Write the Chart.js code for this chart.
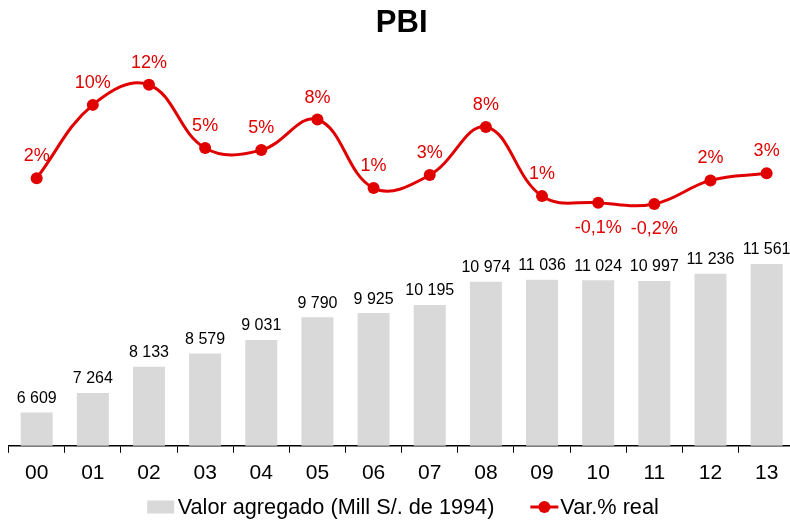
<!DOCTYPE html>
<html>
<head>
<meta charset="utf-8">
<script src="https://cdn.jsdelivr.net/npm/chart.js@4.4.1/dist/chart.umd.min.js"></script>
<style>
html,body{margin:0;padding:0;background:#fff;overflow:hidden;}
#wrap{width:810px;height:522px;}
</style>
</head>
<body>
<div id="wrap"><canvas id="c" width="810" height="522"></canvas></div>
<script>
// ---- data ----
const categories = ['00','01','02','03','04','05','06','07','08','09','10','11','12','13'];
const valorAgregado = [6609, 7264, 8133, 8579, 9031, 9790, 9925, 10195, 10974, 11036, 11024, 10997, 11236, 11561];
const varReal = [2.4, 9.9, 11.96, 5.48, 5.27, 8.4, 1.38, 2.72, 7.64, 0.56, -0.11, -0.24, 2.17, 2.89];
const seriesNames = ['Valor agregado (Mill S/. de 1994)', 'Var.% real'];

const RED = '#e00000';
const GREY = '#d9d9d9';
const FONT = "'Liberation Sans', Arial, sans-serif";

function fmtThousands(v){ return String(v).replace(/\B(?=(\d{3})+(?!\d))/g, ' '); }
function fmtPct(v){
  const r = Math.round(v);
  if (r === 0) return v.toFixed(1).replace('.', ',') + '%';
  return r + '%';
}

const labelsPlugin = {
  id: 'valueLabels',
  afterDatasetsDraw(chart){
    const ctx = chart.ctx;
    ctx.save();
    ctx.textAlign = 'center';
    ctx.textBaseline = 'middle';
    const mb = chart.getDatasetMeta(0);
    ctx.font = '16px ' + FONT;
    ctx.fillStyle = '#000';
    mb.data.forEach((el, i) => {
      ctx.fillText(fmtThousands(valorAgregado[i]), el.x, el.y - 14);
    });
    const ml = chart.getDatasetMeta(1);
    ctx.font = '18px ' + FONT;
    ctx.fillStyle = RED;
    ml.data.forEach((el, i) => {
      const v = varReal[i];
      const dy = v < 0 ? 25 : -22;
      ctx.fillText(fmtPct(v), el.x, el.y + dy);
    });
    ctx.restore();
  }
};

const legendPlugin = {
  id: 'customLegend',
  afterDraw(chart){
    const ctx = chart.ctx;
    ctx.save();
    ctx.font = '21.7px ' + FONT;
    ctx.textBaseline = 'middle';
    ctx.textAlign = 'left';
    const y = 507;
    const t1 = ctx.measureText(seriesNames[0]).width;
    const t2 = ctx.measureText(seriesNames[1]).width;
    const boxW = 27, gapTxt = 3.5, gapItem = 36, lineW = 28;
    const total = boxW + gapTxt + t1 + gapItem + lineW + 2 + t2;
    let x = 403 - total / 2;
    ctx.fillStyle = GREY;
    ctx.fillRect(x, y - 6.5, boxW, 13);
    x += boxW + gapTxt;
    ctx.fillStyle = '#000';
    ctx.fillText(seriesNames[0], x, y + 1);
    x += t1 + gapItem;
    ctx.strokeStyle = RED;
    ctx.lineWidth = 3;
    ctx.beginPath();
    ctx.moveTo(x, y);
    ctx.lineTo(x + lineW, y);
    ctx.stroke();
    ctx.fillStyle = RED;
    ctx.beginPath();
    ctx.arc(x + lineW / 2, y, 6, 0, Math.PI * 2);
    ctx.fill();
    x += lineW + 2;
    ctx.fillStyle = '#000';
    ctx.fillText(seriesNames[1], x, y + 1);
    ctx.restore();
  }
};

new Chart(document.getElementById('c'), {
  data: {
    labels: categories,
    datasets: [
      {
        type: 'bar',
        label: seriesNames[0],
        data: valorAgregado,
        backgroundColor: GREY,
        borderWidth: 0,
        categoryPercentage: 1,
        barPercentage: 0.57,
        yAxisID: 'y',
        order: 2
      },
      {
        type: 'line',
        label: seriesNames[1],
        data: varReal,
        borderColor: RED,
        backgroundColor: RED,
        borderWidth: 3,
        pointRadius: 6,
        pointBorderWidth: 0,
        pointBackgroundColor: RED,
        tension: 0.4,
        yAxisID: 'y2',
        order: 1
      }
    ]
  },
  options: {
    responsive: false,
    animation: false,
    devicePixelRatio: 1,
    layout: { padding: { left: 8.6, right: 15.3, top: 0, bottom: 28 } },
    plugins: {
      legend: { display: false },
      tooltip: { enabled: false },
      title: {
        display: true,
        text: 'PBI',
        color: '#000',
        font: { family: FONT, size: 31, weight: 'bold' },
        padding: { top: 5, bottom: 7 }
      }
    },
    scales: {
      x: {
        offset: true,
        grid: { display: true, offset: true, drawOnChartArea: false, tickLength: 7, color: '#000', lineWidth: 1 },
        border: { display: true, color: '#000', width: 1.5 },
        ticks: { color: '#000', font: { family: FONT, size: 21 }, padding: 8, maxRotation: 0, autoSkip: false }
      },
      y: {
        display: false,
        min: 5500,
        max: 18727
      },
      y2: {
        display: false,
        min: -25,
        max: 15.6
      }
    }
  },
  plugins: [labelsPlugin, legendPlugin]
});
</script>
</body>
</html>
